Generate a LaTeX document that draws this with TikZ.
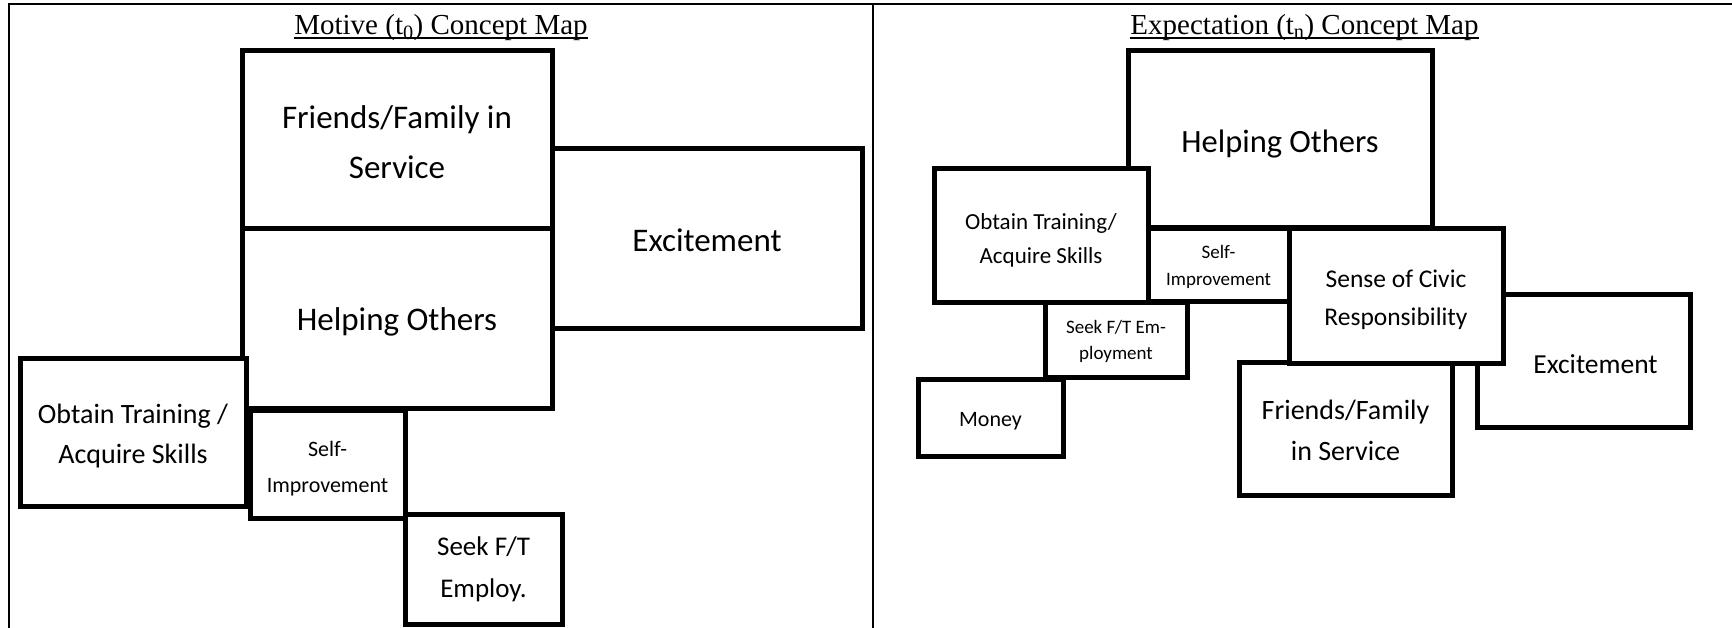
\documentclass[tikz,border=0pt]{standalone}
\usepackage{fontspec}
\setmainfont{Carlito}
\newfontfamily\titlefont{Liberation Serif}
\newcommand\setfs[2]{\fontsize{#1}{#2}\selectfont}
\newcommand\boxlift[1]{\rule{0pt}{#1pt}}
\begin{document}
\begin{tikzpicture}[x=1pt,y=-1pt,
  cbox/.style={draw=black, line width=5pt, fill=white, align=center, inner sep=0pt, outer sep=0pt},
  frameline/.style={line width=2.5pt, line cap=rect},
  titletext/.style={anchor=base, inner sep=0pt, font=\titlefont\setfs{29}{34}},
  uline/.style={line width=1.3pt}]
\useasboundingbox (0,0) rectangle (1732,628);
\fill[white] (0,0) rectangle (1732,628);
% frame
\coordinate (tl) at (9,4);
\coordinate (tr) at (1733,4);
\coordinate (bl) at (9,629);
\coordinate (dt) at (873,4);
\coordinate (db) at (873,629);
\draw[frameline] (bl) -- (tl) -- (tr);
\draw[frameline] (dt) -- (db);
% titles
\node[titletext] (ltitle) at (441,35) {Motive (t\textsubscript{0}) Concept Map};
\draw[uline] ([yshift=-3pt]ltitle.base west) -- ([yshift=-3pt]ltitle.base east);
\node[titletext] (rtitle) at (1304.5,35) {Expectation (t\textsubscript{n}) Concept Map};
\draw[uline] ([yshift=-3pt]rtitle.base west) -- ([yshift=-3pt]rtitle.base east);
% left map
\node[cbox, minimum width=310pt, minimum height=178pt, font=\setfs{33}{50}] (lfriends) at (397,140) {\boxlift{26.5}Friends/Family in\\Service};
\node[cbox, minimum width=310pt, minimum height=179pt, font=\setfs{33}{50}] (lhelp) at (397,318.5) {\boxlift{29.7}Helping Others};
\node[cbox, minimum width=310pt, minimum height=179pt, font=\setfs{33}{50}] (lexcite) at (707,238.5) {\boxlift{25.3}Excitement};
\node[cbox, minimum width=226pt, minimum height=148pt, font=\setfs{28}{40}] (lobtain) at (133,432) {\boxlift{28.4}Obtain Training /\\Acquire Skills};
\node[cbox, minimum width=155pt, minimum height=108pt, font=\setfs{22}{36}] (lself) at (327.5,464) {\boxlift{24.2}Self-\\Improvement};
\node[cbox, minimum width=157pt, minimum height=110pt, font=\setfs{27}{42}] (lseek) at (483.5,569) {Seek F/T\\Employ.};
% right map
\node[cbox, minimum width=304pt, minimum height=177pt, font=\setfs{32.5}{40}] (rhelp) at (1280,139.5) {\boxlift{31.5}Helping Others};
\node[cbox, minimum width=214pt, minimum height=134pt, font=\setfs{23}{34}] (robtain) at (1041,236) {\boxlift{23.9}Obtain Training/\\Acquire Skills};
\node[cbox, minimum width=141pt, minimum height=73pt, font=\setfs{19}{27}] (rself) at (1218.5,265.5) {\boxlift{15.3}Self-\\Improvement};
\node[cbox, minimum width=142pt, minimum height=74pt, font=\setfs{19}{26}] (rseek) at (1116,340) {\boxlift{16.6}Seek F/T Em-\\ployment};
\node[cbox, minimum width=145pt, minimum height=77pt, font=\setfs{22}{30}] (rmoney) at (990.5,417.5) {\boxlift{22}Money};
\node[cbox, minimum width=213pt, minimum height=132pt, font=\setfs{27.5}{36}] (rexcite) at (1583.5,361) {\hspace*{24pt}\boxlift{25.9}Excitement};
\node[cbox, minimum width=213pt, minimum height=133pt, font=\setfs{28}{41}] (rfriends) at (1345.5,428.5) {\boxlift{24}Friends/Family\\in Service};
\node[cbox, minimum width=214pt, minimum height=134pt, font=\setfs{25.5}{38}] (rsense) at (1396,296) {\boxlift{24.5}Sense of Civic\\Responsibility};
\end{tikzpicture}
\end{document}
